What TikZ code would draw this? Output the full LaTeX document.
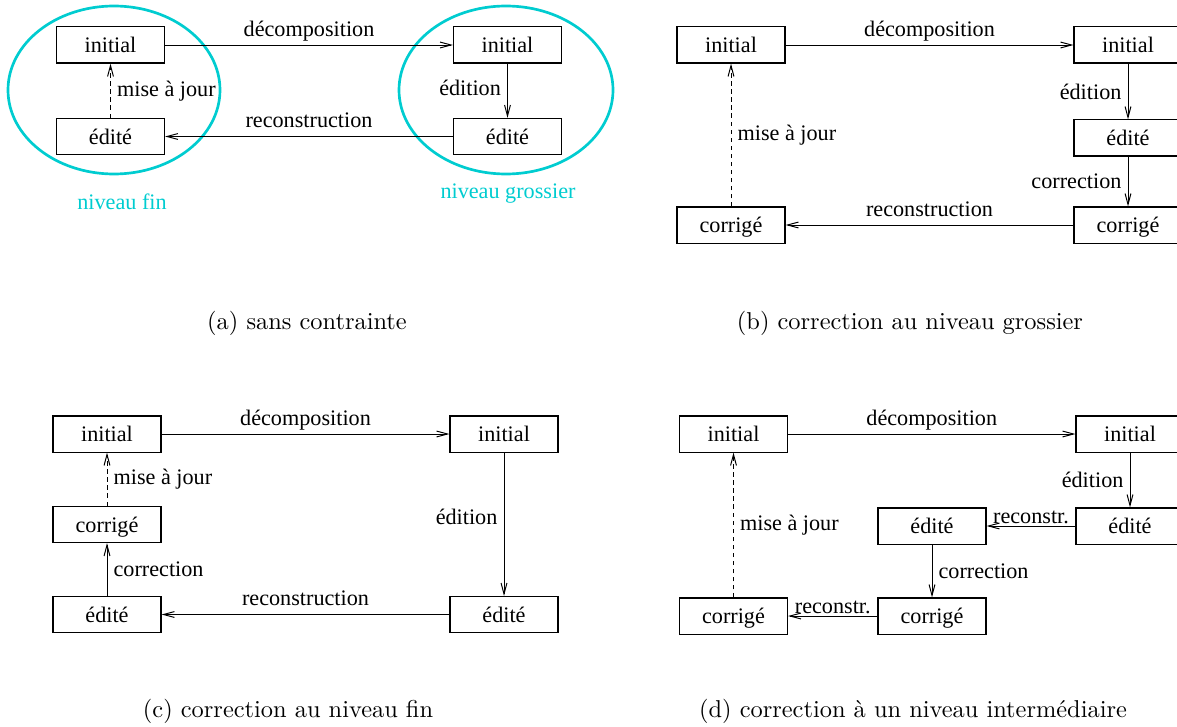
\documentclass[tikz,border=0pt]{standalone}
\usepackage{fontspec}
\newfontfamily\figfont{Liberation Serif}
\usepackage{tikz}
\usetikzlibrary{arrows.meta}
\definecolor{niveau}{RGB}{0,204,208}
\tikzset{boite/.style={draw, line width=0.45pt, minimum width=44.3pt, minimum height=14.8pt,
    inner sep=0pt, text depth=0pt, font=\figfont\fontsize{9.1}{11}\selectfont},
  fleche/.style={-{Straight Barb[length=4.5pt,width=2.4pt]}, line width=0.4pt},
  majour/.style={fleche, dash pattern=on 1.8pt off 1.5pt},
  etiq/.style={font=\figfont\fontsize{9.1}{11}\selectfont, inner sep=2.5pt},
  etiqh/.style={etiq, above, text depth=0pt, inner sep=3.4pt},
  etiqr/.style={etiq, above, text depth=0pt, inner sep=1pt},
  ovale/.style={draw=niveau, line width=1.1pt},
  niv/.style={text=niveau, font=\figfont\fontsize{9.1}{11}\selectfont},
  legende/.style={font=\fontsize{10}{12}\selectfont}}

\begin{document}
\begin{tikzpicture}[x=0.41pt, y=-0.41pt]
  \useasboundingbox (0,0) rectangle (1177,726);
  % (a) sans contrainte
  \draw[ovale] (114,90) ellipse [x radius=106, y radius=84];
  \draw[ovale] (506,90) ellipse [x radius=107, y radius=84];
  \node[boite] (a1) at (110.5,45) {initial};
  \node[boite] (a2) at (507.5,45) {initial};
  \node[boite] (a3) at (507.5,136.5) {édité};
  \node[boite] (a4) at (110.5,136.5) {édité};
  \draw[fleche] (a1) -- node[etiqh] {décomposition} (a2);
  \draw[fleche] (a2) -- node[etiq, left, pos=0.45] {édition} (a3);
  \draw[fleche] (a3) -- node[etiqh] {reconstruction} (a4);
  \draw[majour] (a4) -- node[etiq, right] {mise à jour} (a1);
  \node[niv] (nfin) at (122,202) {niveau fin};
  \node[niv] (ngros) at (508,194) {niveau grossier};

  % (b) correction au niveau grossier
  \node[boite] (b1) at (731,45) {initial};
  \node[boite] (b2) at (1128,45) {initial};
  \node[boite] (b3) at (1128,138) {édité};
  \node[boite] (b4) at (1128,225) {corrigé};
  \node[boite] (b5) at (731,225) {corrigé};
  \draw[fleche] (b1) -- node[etiqh] {décomposition} (b2);
  \draw[fleche] (b2) -- node[etiq, left] {édition} (b3);
  \draw[fleche] (b3) -- node[etiq, left] {correction} (b4);
  \draw[fleche] (b4) -- node[etiqh] {reconstruction} (b5);
  \draw[majour] (b5) -- node[etiq, right] {mise à jour} (b1);

  % (c) correction au niveau fin
  \node[boite] (c1) at (107,434) {initial};
  \node[boite] (c2) at (504,434) {initial};
  \node[boite] (c3) at (504,614.5) {édité};
  \node[boite] (c4) at (107,614.5) {édité};
  \node[boite] (c5) at (107,524.5) {corrigé};
  \draw[fleche] (c1) -- node[etiqh] {décomposition} (c2);
  \draw[fleche] (c2) -- node[etiq, left, pos=0.45] {édition} (c3);
  \draw[fleche] (c3) -- node[etiqh] {reconstruction} (c4);
  \draw[fleche] (c4) -- node[etiq, right] {correction} (c5);
  \draw[majour] (c5) -- node[etiq, right] {mise à jour} (c1);

  % (d) correction a un niveau intermediaire
  \node[boite] (d1) at (733.5,434) {initial};
  \node[boite] (d2) at (1130,434) {initial};
  \node[boite] (d3) at (1130,526) {édité};
  \node[boite] (d4) at (932,526) {édité};
  \node[boite] (d5) at (932,616) {corrigé};
  \node[boite] (d6) at (733.5,616) {corrigé};
  \draw[fleche] (d1) -- node[etiqh] {décomposition} (d2);
  \draw[fleche] (d2) -- node[etiq, left] {édition} (d3);
  \draw[fleche] (d3) -- node[etiqr] {reconstr.} (d4);
  \draw[fleche] (d4) -- node[etiq, right] {correction} (d5);
  \draw[fleche] (d5) -- node[etiqr] {reconstr.} (d6);
  \draw[majour] (d6) -- node[etiq, right] {mise à jour} (d1);

  % legendes
  \foreach \n/\x/\y/\t in {a/307/323/{(a) sans contrainte},
      b/910/323/{(b) correction au niveau grossier},
      c/288/711/{(c) correction au niveau fin},
      d/913/711/{(d) correction à un niveau intermédiaire}}
    \node[legende] (leg\n) at (\x,\y) {\t};
\end{tikzpicture}
\end{document}
